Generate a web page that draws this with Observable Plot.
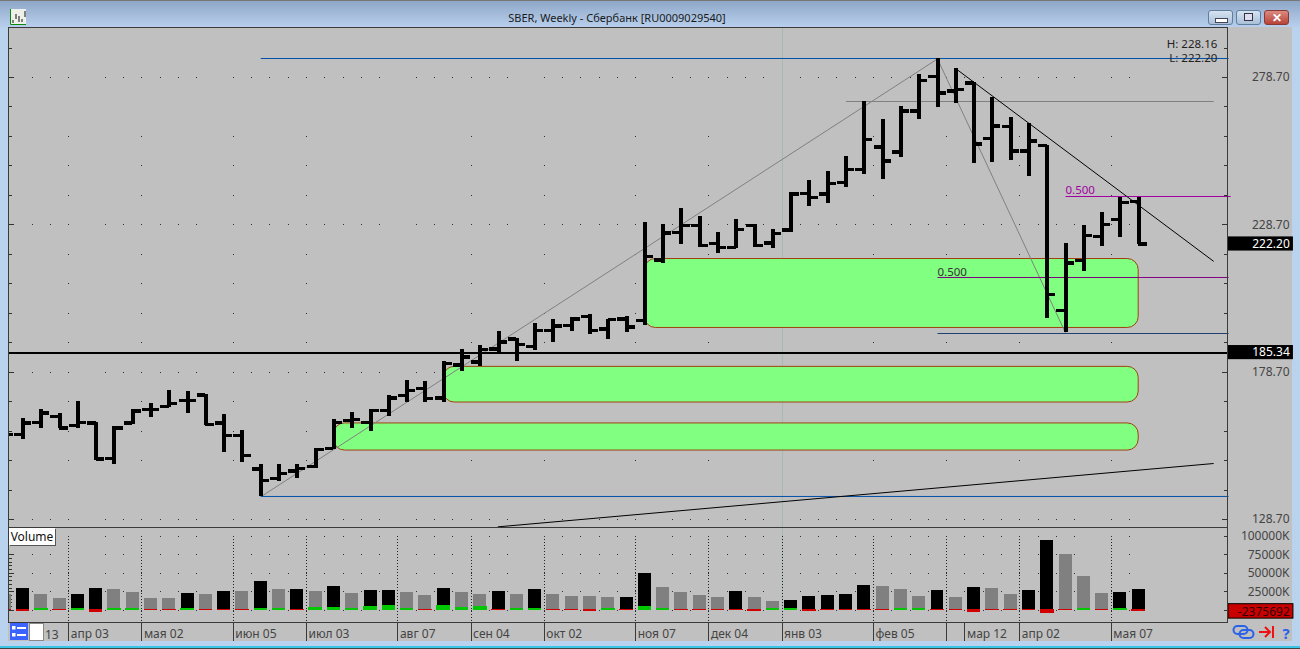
<!DOCTYPE html>
<html lang="ru"><head><meta charset="utf-8">
<script src="https://cdn.jsdelivr.net/npm/d3@7"></script>
<script src="https://cdn.jsdelivr.net/npm/@observablehq/plot@0.6"></script>
<style>
html,body{margin:0;padding:0;width:1300px;height:649px;overflow:hidden;background:#b9d3ee;font-family:"Noto Sans",sans-serif}
#win{position:absolute;left:0;top:0;width:1300px;height:649px;overflow:hidden}
.abs{position:absolute}
#title{left:0;top:0;width:1300px;height:28px;background:linear-gradient(#8ea6c6,#b9d1ee)}
#titletext{left:0;width:1234px;top:10px;text-align:center;font-size:11px;line-height:16px;color:#1a1a1a}
#panel{left:8px;top:27px;width:1284px;height:614px;background:#c0c0c0}
#bottom1{left:0;top:646px;width:1300px;height:2px;background:#3cc4e6}
#bottom2{left:0;top:648px;width:1300px;height:1px;background:#444}
#topline{left:0;top:0;width:1300px;height:1px;background:#777}
svg.plot,figure{position:absolute;margin:0}
#price{left:0;top:27px}
#vol{left:0;top:527px}
.btn{top:10px;height:13px;border:1px solid #5f7d9e;border-radius:3px;background:linear-gradient(#d6e3f1,#a9c0d8);box-sizing:content-box}
#volumeTag{left:9px;top:528px;width:46px;height:17px;background:#fff;box-shadow:1px 1px 0 #555;font-size:12px;line-height:17px;text-align:center;color:#111}
#listIcon{left:10px;top:623px;width:18px;height:17px;background:#3a63ff}
#tab{left:29px;top:623px;width:13px;height:16px;background:#fff;border:1px solid #888}
#tools{left:1232px;top:623px}
</style></head><body>
<div id="win">
  <div class="abs" id="title"></div>
  <div class="abs" id="topline"></div>
  <svg class="abs" style="left:10px;top:9px" width="16" height="16"><rect width="16" height="16" fill="#eef0ea"/><path d="M0.5 0V15.5H16" stroke="#0a8a0a" fill="none"/><path d="M3 14v-3M6 10V5M9 13V7M12 13v-3M15 8V2" stroke="#111" stroke-width="1" fill="none"/></svg>
  <div class="abs" id="titletext">SBER, Weekly - Сбербанк [RU0009029540]</div>
  <div class="abs btn" style="left:1208px;width:23px"><div class="abs" style="left:6px;top:7px;width:11px;height:3px;background:#fff;border:1px solid #445"></div></div>
  <div class="abs btn" style="left:1236px;width:23px"><div class="abs" style="left:7px;top:2px;width:7px;height:6px;background:#dde;border:1px solid #334"></div></div>
  <div class="abs btn" style="left:1264px;width:23px;background:linear-gradient(#dc8a80,#b8433a);border-color:#8a3a34;color:#fff;font:bold 12px/13px 'Noto Sans';text-align:center">✕</div>
  <div class="abs" id="panel"></div>
  <div class="abs" id="bottom1"></div>
  <div class="abs" id="bottom2"></div>
  <div id="price" class="abs"></div>
  <div id="vol" class="abs"></div>
  <div class="abs" id="volumeTag">Volume</div>
  <svg class="abs" id="listIcon" viewBox="0 0 18 17"><rect x="2" y="3" width="3.5" height="3.5" fill="#fff"/><rect x="2" y="10" width="3.5" height="3.5" fill="#fff"/><rect x="7" y="4" width="9" height="2" fill="#fff"/><rect x="7" y="11" width="9" height="2" fill="#fff"/></svg>
  <div class="abs" id="tab"></div>
  <svg class="abs" id="tools" width="44" height="20"><rect x="1.5" y="3" width="14" height="8" rx="4" fill="none" stroke="#2a62e8" stroke-width="2"/><rect x="7.5" y="7" width="14" height="8" rx="4" fill="none" stroke="#2a62e8" stroke-width="2"/><path d="M27 9h11M33 4l5 5-5 5M41 3v12" fill="none" stroke="#ee1111" stroke-width="2"/></svg>
</div>
<script>
// Week index of the first entry in each series (its bar lies left of the panel edge).
const firstWeek = -1;
const barOpen = [157.6,157.6,161.7,163.6,160.5,161.4,149.5,161.4,166.0,167.1,169.0,171.0,161.4,157.2,145.8,142.7,145.1,146.7,152.7,162.3,161.7,165.7,170.8,173.1,170.0,181.2,182.1,186.6,190.0,187.5,192.8,194.5,197.6,193.4,196.8,196.2,216.8,226.0,228.4,222.4,221.1,228.5,222.5,227.0,239.4,239.2,243.0,247.5,255.1,253.4,267.3,279.1,274.1,276.8,258.1,262.1,253.7,255.6,199.6,216.6,224.7,230.6,236.7];
const barHigh = [160.0,162.9,166.0,164.8,168.8,161.7,160.4,166.0,168.2,172.4,172.2,171.0,164.2,158.8,147.3,147.3,147.3,152.7,162.6,165.0,166.2,170.9,175.9,175.5,182.3,186.4,187.8,192.5,190.1,195.1,196.5,197.4,198.3,196.5,197.6,229.4,228.7,234.1,231.5,226.1,230.4,228.9,227.2,239.8,243.8,246.8,251.9,270.6,264.5,268.9,279.7,285.0,281.7,277.1,272.0,265.0,263.2,255.6,222.3,228.5,232.8,238.1,238.1];
const barLow = [155.0,155.9,159.7,159.5,159.7,148.7,147.5,160.9,163.3,166.8,164.7,160.5,151.6,148.2,136.4,141.7,142.7,146.1,152.5,159.7,158.7,163.8,168.5,168.3,168.5,178.9,180.6,185.5,182.4,186.1,188.9,192.6,191.5,189.8,192.3,194.5,215.7,222.0,220.9,219.1,220.6,221.1,220.8,226.2,235.0,236.1,241.5,245.8,244.1,251.7,264.5,268.6,270.0,249.6,250.0,250.5,245.1,197.0,192.0,213.0,221.5,224.5,222.0];
const barClose = [157.6,161.5,164.8,159.8,161.7,149.2,159.8,165.5,166.0,168.0,169.0,160.9,157.2,150.4,142.0,144.4,146.1,152.5,161.7,162.6,165.7,170.0,172.4,169.7,181.6,183.8,186.3,188.9,188.0,192.8,194.3,196.8,192.8,196.5,194.0,218.0,225.9,228.4,221.6,221.1,227.1,221.6,225.7,239.2,237.9,242.8,247.4,257.6,250.3,267.3,277.7,273.4,274.7,256.2,262.2,253.7,257.1,205.0,215.7,225.1,228.8,236.2,222.2];

const volumeK = [21150,29250,21150,15750,21150,29250,27900,23850,15750,15750,22500,21150,25200,25200,38700,27900,27900,25200,31950,22500,26550,26550,23850,19800,29250,23850,21150,25200,21150,27900,21150,18450,18450,17100,17100,49500,30600,23850,19800,17100,25200,17100,11700,13050,18450,19800,21150,33300,31950,27900,18450,26550,17100,30600,29250,21150,26550,94050,75150,45450,22500,23850,27900];
const blackVolumeWeeks = [0,3,4,9,11,13,15,17,19,20,23,26,28,33,34,39,42,43,44,45,46,50,52,55,56,60,61];
const volumeDeltaK = [-500,-2000,2250,-500,2250,-3500,2250,2250,-500,-500,2250,-500,-500,-500,2250,2250,-500,4000,4000,2250,5500,7000,2250,-500,7000,4000,5500,-500,2250,2250,-500,-500,-2375,2250,-500,5500,2250,-500,-500,-500,-500,-2400,2250,2250,-2400,-500,-500,-500,-500,2250,2250,-500,-500,-3500,-500,-500,-500,-4500,-500,2250,-500,2250,-2376];

const monthWeeks = [2.5,6.5,11.5,15.5,20.5,24.5,28.5,33.5,37.5,41.5,46.5,50.5,54.5,59.5];
const timeLabels = ["апр 03","мая 02","июн 05","июл 03","авг 07","сен 04","окт 02","ноя 07","дек 04","янв 03","фев 05","мар 12","апр 02","мая 07"];
const labelWeeks = [2.5,6.5,11.5,15.5,20.5,24.5,28.5,33.5,37.5,41.5,46.5,51.5,54.5,59.5];
const separatorWeeks = [2.5,6.5,11.5,15.5,20.5,24.5,28.5,33.5,37.5,41.5,46.5,50.5,51.5,54.5,59.5];
const boundaryWeeks = d3.range(0,61).map(d=>d+0.5);

const priceLevels = [288.7,278.7,268.7,258.7,248.7,238.7,228.7,218.7,208.7,198.7,188.7,178.7,168.7,158.7,148.7,138.7,128.7];
const priceLabels = [278.7,228.7,178.7,128.7];
const volumeLabels = [100000,75000,50000,25000];
const volumeMinor = [75000,70000,65000,60000,55000,50000,45000,40000,35000,30000,25000,20000,15000,10000,5000,0];
const lastPrice = 222.20, supportPrice = 185.34, lastDelta = -2375692;

const greenZones = [
  {from:34,to:61,top:217.1,bottom:193.7},
  {from:23,to:61,top:180.5,bottom:168.4},
  {from:17,to:61,top:161.3,bottom:152.1}
];

const bars = barOpen.map((o,k)=>({i:k+firstWeek,o,h:barHigh[k],l:barLow[k],c:barClose[k]}));
const vols = volumeK.map((v,k)=>({i:k+firstWeek,v,d:volumeDeltaK[k],black:blackVolumeWeeks.includes(k+firstWeek)}));
const cross = (xs,ys)=>ys.flatMap(y=>xs.map(x=>({x,y})));

const xDomain = [-0.738,65.91], xRange = [9,1228];
const rightEnd = 69.46, rightText = 69.26;
const baseStyle = {background:"transparent",fontFamily:"'Noto Sans',sans-serif",fontSize:"12px",overflow:"visible"};
const seg = (i1,p1,i2,p2,stroke,strokeWidth=1)=>Plot.link([0],{x1:()=>i1,y1:()=>p1,x2:()=>i2,y2:()=>p2,stroke,strokeWidth});
const tagColor = "#444";

const price = Plot.plot({
  width:1300,height:500,marginLeft:8,marginRight:73,marginTop:0,marginBottom:0,
  style:baseStyle,
  x:{axis:null,domain:xDomain,range:xRange},
  y:{axis:null,domain:[128.7,278.7],range:[492,50]},
  marks:[
    Plot.ruleX([41.5],{stroke:"#a6bbae",strokeWidth:1,shapeRendering:"crispEdges"}),
    Plot.dot(cross(monthWeeks,priceLevels),{x:"x",y:"y",r:0.5,symbol:"square",fill:"#333",stroke:null,shapeRendering:"crispEdges"}),
    Plot.dot(cross(boundaryWeeks,priceLabels),{x:"x",y:"y",r:0.5,symbol:"square",fill:"#333",stroke:null,shapeRendering:"crispEdges"}),
    Plot.ruleY(priceLevels,{y:d=>d,x1:-0.738,x2:-0.55,stroke:"#333",shapeRendering:"crispEdges"}),
    Plot.ruleY(priceLabels,{y:d=>d,x1:-0.738,x2:-0.45,stroke:"#333",shapeRendering:"crispEdges"}),
    Plot.ruleY(priceLevels,{y:d=>d,x1:65.7,x2:65.91,stroke:"#333",shapeRendering:"crispEdges"}),
    Plot.ruleY(priceLabels,{y:d=>d,x1:65.6,x2:65.91,stroke:"#333",shapeRendering:"crispEdges"}),
    Plot.rect(greenZones,{x1:"from",x2:"to",y1:"bottom",y2:"top",fill:"#80ff80",stroke:"#a04010",strokeWidth:1,rx:11}),
    seg(13,136.4,50,285,"#808080"),
    seg(50,285,57,192,"#808080"),
    seg(13,136.52,65.91,136.52,"#0050a8"),
    seg(13,285.15,65.91,285.15,"#0050a8"),
    seg(45,270.55,65.1,270.55,"#808080"),
    seg(57,238.32,66.03,238.32,"#a000a0"),
    seg(50,210.83,65.91,210.83,"#800080"),
    seg(50,191.82,65.91,191.82,"#204070"),
    seg(51,281.7,65.1,216.3,"#000"),
    seg(25.96,126.2,65.1,147.7,"#000"),
    Plot.ruleY([supportPrice],{y:d=>d,x1:xDomain[0],x2:xDomain[1],stroke:"#000",strokeWidth:2,shapeRendering:"crispEdges"}),
    Plot.ruleX(bars,{x:"i",y1:"l",y2:"h",stroke:"#000",strokeWidth:4,clip:"frame",shapeRendering:"crispEdges"}),
    Plot.ruleY(bars,{y:"o",x1:d=>d.i-0.47,x2:"i",stroke:"#000",strokeWidth:3.4,clip:"frame",shapeRendering:"crispEdges"}),
    Plot.ruleY(bars,{y:"c",x1:"i",x2:d=>d.i+0.47,stroke:"#000",strokeWidth:3.4,clip:"frame",shapeRendering:"crispEdges"}),
    Plot.text([0],{x:()=>57,y:()=>240.3,text:()=>"0.500",textAnchor:"start",fill:"#a000a0",fontSize:11.5}),
    Plot.text([0],{x:()=>50,y:()=>212.6,text:()=>"0.500",textAnchor:"start",fill:"#333",fontSize:11.5}),
    Plot.text([0],{x:()=>65.3,y:()=>290.1,text:()=>"H: 228.16",textAnchor:"end",fill:"#222",fontSize:11.5}),
    Plot.text([0],{x:()=>65.3,y:()=>285.3,text:()=>"L: 222.20",textAnchor:"end",fill:"#222",fontSize:11.5}),
    Plot.axisY(priceLabels,{anchor:"right",label:null,tickSize:0,tickPadding:62,textAnchor:"end",tickFormat:d=>d.toFixed(2),fill:tagColor,fontSize:12}),
    Plot.rect([lastPrice,supportPrice],{x1:xDomain[1],x2:rightEnd,y1:d=>d-2.4,y2:d=>d+2.4,fill:"#000"}),
    Plot.text([lastPrice,supportPrice],{x:()=>rightText,y:d=>d,text:d=>d.toFixed(2),textAnchor:"end",fill:"#fff",fontSize:12}),
    Plot.frame({stroke:"#3a3a3a",shapeRendering:"crispEdges"})
  ]
});
document.getElementById("price").append(price);

const vol = Plot.plot({
  width:1300,height:114,marginLeft:8,marginRight:73,marginTop:0,marginBottom:19,
  style:baseStyle,
  x:{axis:null,domain:xDomain,range:xRange},
  y:{axis:null,domain:[0,100000],range:[82.7,8.7]},
  marks:[
    Plot.ruleX([41.5],{stroke:"#a6bbae",strokeWidth:1,shapeRendering:"crispEdges"}),
    Plot.ruleX(monthWeeks,{x:d=>d,y1:100000,y2:-16600,stroke:"#222",strokeDasharray:"1,2",shapeRendering:"crispEdges"}),
    Plot.dot(cross(boundaryWeeks,[100000,75000,50000,25000,0]),{x:"x",y:"y",r:0.5,symbol:"square",fill:"#333",stroke:null,shapeRendering:"crispEdges"}),
    Plot.ruleY(volumeMinor,{y:d=>d,x1:-0.738,x2:-0.58,stroke:"#333",shapeRendering:"crispEdges"}),
    Plot.ruleY(volumeLabels.concat([0]),{y:d=>d,x1:-0.738,x2:-0.45,stroke:"#333",shapeRendering:"crispEdges"}),
    Plot.ruleY(volumeLabels.concat([0]),{y:d=>d,x1:65.7,x2:65.91,stroke:"#333",shapeRendering:"crispEdges"}),
    Plot.rectY(vols,{x1:d=>d.i-0.355,x2:d=>d.i+0.355,y1:0,y2:"v",fill:d=>d.black?"#000":"#808080",clip:"frame",shapeRendering:"crispEdges"}),
    Plot.rectY(vols.filter(d=>d.d>0),{x1:d=>d.i-0.37,x2:d=>d.i+0.37,y1:-500,y2:"d",fill:"#00c800",shapeRendering:"crispEdges"}),
    Plot.rectY(vols.filter(d=>d.d<0),{x1:d=>d.i-0.37,x2:d=>d.i+0.37,y1:900,y2:"d",fill:"#d00000",clip:"frame",shapeRendering:"crispEdges"}),
    Plot.axisY(volumeLabels,{anchor:"right",label:null,tickSize:0,tickPadding:62,textAnchor:"end",tickFormat:d=>d+"K",fill:tagColor,fontSize:12}),
    Plot.rect([lastDelta/1000],{x1:xDomain[1],x2:rightEnd,y1:d=>d-9000,y2:d=>d+10500,fill:"#c80000",stroke:"#000"}),
    Plot.text([lastDelta],{x:()=>rightText,y:d=>d/1000,text:d=>String(d),textAnchor:"end",fill:"#300",fontSize:12}),
    Plot.axisX(separatorWeeks,{anchor:"bottom",label:null,tickSize:19,text:null,stroke:"#3a3a3a",shapeRendering:"crispEdges"}),
    Plot.axisX(labelWeeks,{anchor:"bottom",label:null,tickSize:0,tickPadding:7,textAnchor:"start",dx:2,tickFormat:d=>timeLabels[labelWeeks.indexOf(d)],fill:tagColor,fontSize:12}),
    Plot.text(["13"],{x:()=>1.2,y:()=>-34200,text:d=>d,textAnchor:"start",fill:tagColor,fontSize:12}),
    Plot.text(["?"],{x:()=>69.25,y:()=>-33000,text:d=>d,textAnchor:"end",fill:"#2a62e8",fontSize:15,fontWeight:"bold"}),
    Plot.frame({stroke:"#3a3a3a",shapeRendering:"crispEdges"})
  ]
});
document.getElementById("vol").append(vol);
</script>
</body></html>
